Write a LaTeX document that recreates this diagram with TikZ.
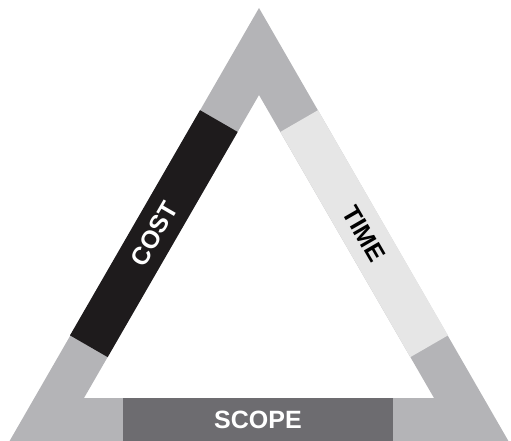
\documentclass[tikz,border=0pt]{standalone}
\usepackage{fontspec}
\setmainfont{Liberation Sans}
\usepackage{xcolor}
\usepackage{tikz}
\usetikzlibrary{positioning, calc}

\definecolor{framegray}{RGB}{180,180,183}
\definecolor{costblack}{RGB}{30,27,28}
\definecolor{timegray}{RGB}{230,230,230}
\definecolor{scopegray}{RGB}{109,108,112}

\begin{document}
\begin{tikzpicture}[x=1pt, y=1pt,
    band/.style={draw=none},
    sidelabel/.style={font=\fontsize{25}{30}\selectfont\bfseries, inner sep=0pt}]
    \clip (0,0) rectangle (511,440);

    % outer and inner corners
    \coordinate (top)    at (259,432);
    \coordinate (left)   at (9,-2);
    \coordinate (right)  at (509,-2);
    \coordinate (itop)   at (259,345);
    \coordinate (ileft)  at (84,42);
    \coordinate (iright) at (434,42);

    % gray frame
    \fill[framegray, even odd rule] (top) -- (left) -- (right) -- cycle
                                    (itop) -- (ileft) -- (iright) -- cycle;

    % cost band on the left side
    \begin{scope}[shift={(top)}, rotate=-120]
        \fill[band, costblack] (118,0) rectangle (378,43.5);
    \end{scope}

    % time band on the right side
    \begin{scope}[shift={(top)}, rotate=-60]
        \fill[band, timegray] (118,0) rectangle (378,-43.5);
    \end{scope}

    % scope bar at the bottom
    \fill[band, scopegray] (123,-2) rectangle (393,42);

    \node[sidelabel, text=white, rotate=60]  (cost)  at (154,206) {COST};
    \node[sidelabel, text=black, rotate=-60] (time)  at (364,206) {TIME};
    \node[sidelabel, text=white]             (scope) at (258,20)  {SCOPE};
\end{tikzpicture}
\end{document}
